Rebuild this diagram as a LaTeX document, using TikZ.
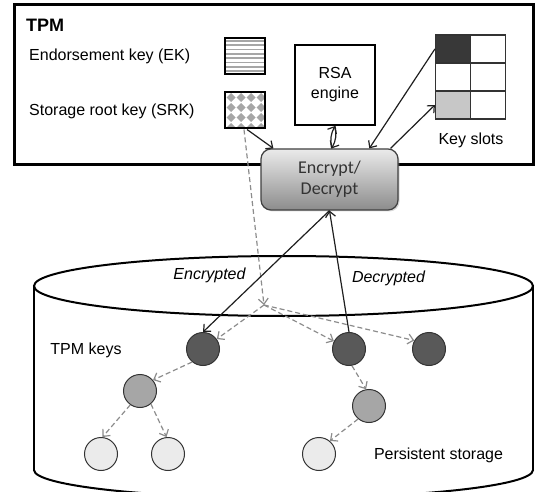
\documentclass[tikz,border=0pt]{standalone}
\usepackage{fontspec}
\setmainfont{Liberation Sans}
\newfontfamily\carlito{Carlito}
\usetikzlibrary{arrows.meta,shadows}
\begin{document}
\begin{tikzpicture}[
  x=1pt, y=-1pt,
  lbl/.style={font=\fontsize{16}{20}\selectfont, inner sep=0pt, text=black},
  cyl/.style={draw=black, line width=2pt},
  keyc/.style={circle, draw=black!80, line width=1pt, minimum size=33pt, inner sep=0pt},
  cell/.style={rectangle, draw=black!80, line width=1.2pt, minimum width=35pt, minimum height=28pt, inner sep=0pt},
  keybox/.style={rectangle, draw=black, line width=2pt, minimum width=40pt, minimum height=36pt, inner sep=0pt},
  tip/.style={-{Straight Barb[length=5.5pt,width=10pt]}},
  solidarrow/.style={draw=black!88, line width=1.2pt, tip},
  dasharrow/.style={draw=black!45, line width=1.2pt, dash pattern=on 5pt off 3pt, tip},
  encbox/.style={rectangle, rounded corners=10pt, draw=black!75, line width=1.2pt,
    top color=black!8, bottom color=black!45, minimum width=137pt, minimum height=61pt,
    align=center, inner sep=0pt, font=\carlito\fontsize{18}{21}\selectfont, text=black!80,
    drop shadow={shadow xshift=1.5pt, shadow yshift=-1.5pt, opacity=0.3}},
]
\useasboundingbox (0,0) rectangle (536,492);

% persistent storage cylinder
\draw[cyl] (34,286) -- (34,470);
\draw[cyl] (533,286) -- (533,470);
\begin{scope}
  \clip (20,470) rectangle (550,520);
  \draw[cyl] (283.5,470) ellipse [x radius=249.5, y radius=28];
\end{scope}
\draw[cyl] (283.5,286) ellipse [x radius=249.5, y radius=30];

% TPM frame
\node[draw=black, line width=3pt, minimum width=519pt, minimum height=160pt, inner sep=0pt] (tpm) at (273.5,85) {};
\node[lbl, font=\fontsize{18}{20}\selectfont\bfseries, anchor=west] (tpmlbl) at (26,25) {TPM};
\node[lbl, anchor=west] (eklbl) at (29,56) {Endorsement key (EK)};
\node[lbl, anchor=west] (srklbl) at (29,111) {Storage root key (SRK)};

% key patterns
\begin{scope}
  \clip (225,38) rectangle (265,74);
  \foreach \yy in {41,45.3,...,72} \draw[black!35, line width=1.8pt] (225,\yy) -- (265,\yy);
\end{scope}
\begin{scope}
  \clip (225,92) rectangle (265,129);
  \foreach \i in {0,...,4} \foreach \j in {0,...,4}
    \fill[black!35] (221+10*\i,93+10*\j) -- ++(4.5,4.5) -- ++(-4.5,4.5) -- ++(-4.5,-4.5) -- cycle;
\end{scope}
\node[keybox] (ek) at (245,56) {};
\node[keybox] (srk) at (245,110.5) {};

% RSA engine
\node[draw=black, line width=2pt, minimum width=80pt, minimum height=80pt, inner sep=0pt,
      align=center, font=\fontsize{16}{20}\selectfont] (rsa) at (335,85) {RSA\\engine};

% key slots
\node[cell, fill=black!78] (s11) at (453,49) {};
\node[cell] (s12) at (488,49) {};
\node[cell] (s21) at (453,77) {};
\node[cell] (s22) at (488,77) {};
\node[cell, fill=black!22] (s31) at (453,105) {};
\node[cell] (s32) at (488,105) {};
\node[lbl] (slotlbl) at (471,140) {Key slots};

% encrypt / decrypt unit
\node[encbox] (enc) at (329.5,179.5) {Encrypt/\\Decrypt};

% stored keys
\node[keyc, fill=black!65] (c1) at (203,349) {};
\node[keyc, fill=black!65] (c2) at (349,349) {};
\node[keyc, fill=black!65] (c3) at (429,349) {};
\node[keyc, fill=black!35] (c4) at (140,391) {};
\node[keyc, fill=black!35] (c5) at (369,406) {};
\node[keyc, fill=black!8] (c6) at (101,454) {};
\node[keyc, fill=black!8] (c7) at (168,454) {};
\node[keyc, fill=black!8] (c8) at (319,454) {};

\node[lbl] (tpmkeys) at (86,350) {TPM keys};
\node[lbl] (pstore) at (438.5,455) {Persistent storage};
\node[lbl, font=\fontsize{16}{20}\selectfont\itshape] (encl) at (209.5,275) {Encrypted};
\node[lbl, font=\fontsize{16}{20}\selectfont\itshape] (decl) at (388.5,278) {Decrypted};

% key hierarchy (dashed)
\coordinate (jn) at (264,305);
\draw[dasharrow] ([xshift=-1pt]srk.south) -- (jn);
\draw[dasharrow] (jn) -- (c1);
\draw[dasharrow] (jn) -- (c2);
\draw[dasharrow] (jn) -- (c3.150);
\draw[dasharrow] (c1.230) -- (c4.40);
\draw[dasharrow] (c4.235) -- (c6.85);
\draw[dasharrow] (c4.310) -- (c7.95);
\draw[dasharrow] (c2.280) -- (c5.100);
\draw[dasharrow] (c5.230) -- (c8.50);

% data flow (solid)
\draw[solidarrow] ([xshift=2pt]srk.south) -- (enc.151);
\draw[solidarrow] (rsa.south) to[bend left=20] (enc.86);
\draw[solidarrow] (enc.86) to[bend left=20] (rsa.south);
\draw[solidarrow] (s11.west) -- (enc.38);
\draw[solidarrow] (enc.27) -- (s31.west);
\draw[solidarrow] (enc.south) -- (c1.north);
\draw[solidarrow] (c2.north) -- (enc.south);
\end{tikzpicture}
\end{document}
